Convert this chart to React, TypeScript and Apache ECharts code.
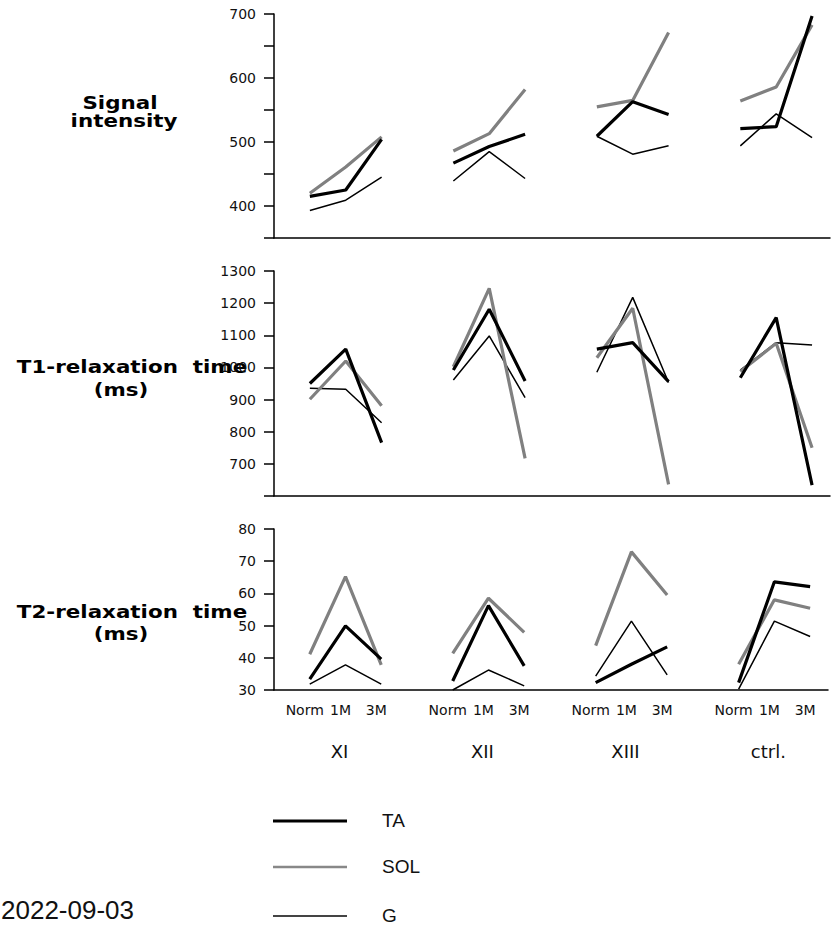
import React, { useEffect, useRef } from "react";
import * as echarts from "echarts";

const groups = ["XI", "XII", "XIII", "ctrl."];
const timepoints = ["Norm", "1M", "3M"];
const measures = ["TA", "SOL", "G"];

// Signal intensity, per group [Norm, 1M, 3M]
const siTA = [[415, 425, 504], [467, 493, 512], [509, 563, 543], [521, 524, 697]];
const siSOL = [[420, 461, 508], [486, 513, 582], [555, 565, 671], [564, 586, 683]];
const siG = [[393, 409, 445], [439, 485, 443], [509, 481, 494], [494, 544, 507]];

// T1-relaxation time (ms)
const t1TA = [[950, 1057, 766], [992, 1181, 958], [1057, 1077, 956], [968, 1155, 634]];
const t1SOL = [[901, 1020, 881], [1002, 1246, 717], [1030, 1184, 636], [987, 1075, 750]];
const t1G = [[935, 932, 828], [961, 1098, 906], [985, 1218, 953], [992, 1077, 1070]];

// T2-relaxation time (ms)
const t2TA = [[33.4, 49.9, 39.6], [32.8, 56.2, 37.5], [32.3, 38, 43.4], [32.3, 63.6, 62.1]];
const t2SOL = [[41.1, 65.2, 37.8], [41.4, 58.5, 47.9], [43.8, 72.9, 59.5], [38, 58, 55.4]];
const t2G = [[31.8, 37.8, 31.8], [30, 36.2, 31.3], [34.3, 51.4, 34.7], [30.3, 51.4, 46.6]];

const siTicks = [400, 500, 600, 700];
const t1Ticks = [700, 800, 900, 1000, 1100, 1200, 1300];
const t2Ticks = [30, 40, 50, 60, 70, 80];

const lineStyles: Record<string, { color: string; width: number }> = {
  TA: { color: "#000000", width: 3.2 },
  SOL: { color: "#808080", width: 3.2 },
  G: { color: "#000000", width: 1.5 },
};

function toData(vals: number[][]) {
  const out: any[] = [];
  vals.forEach((g, gi) => {
    g.forEach((v, i) => out.push([gi * 4 + i, v]));
    out.push([gi * 4 + 3, "-"]);
  });
  return out;
}

export default function App() {
  const ref = useRef<HTMLDivElement>(null);
  useEffect(() => {
    if (!ref.current) return;
    const chart = echarts.init(ref.current, null, { renderer: "svg" });
    const axisFont = { fontFamily: "DejaVu Sans", fontSize: 14, color: "#111" };
    const axisLineStyle = { color: "#000", width: 1.5 };
    const grids = [
      { left: 274, top: 14, width: 556, height: 224 },
      { left: 274, top: 271, width: 556, height: 225 },
      { left: 274, top: 529, width: 556, height: 161 },
    ];
    const baseX = (gi: number) => ({
      type: "value",
      gridIndex: gi,
      min: -1,
      max: 14.5,
      interval: 1,
      splitLine: { show: false },
      axisTick: { show: false },
      axisLine: { show: true, onZero: false, lineStyle: axisLineStyle },
      axisLabel: { show: false },
    });
    const xAxes: any[] = [baseX(0), baseX(1), {
      ...baseX(2),
      axisLabel: {
        show: true,
        ...axisFont,
        fontSize: 14,
        margin: 13,
        padding: [0, 10, 0, 0],
        formatter: (v: number) => {
          if (v < 0) return "";
          const r = Math.round(v) % 4;
          return r < 3 ? timepoints[r] : "";
        },
      },
    }, {
      type: "value",
      gridIndex: 2,
      min: -1,
      max: 14.5,
      interval: 1,
      position: "bottom",
      splitLine: { show: false },
      axisTick: { show: false },
      axisLine: { show: false, onZero: false },
      axisLabel: {
        show: true,
        fontFamily: "DejaVu Sans",
        fontSize: 18,
        color: "#111",
        margin: 52,
        padding: [0, 12, 0, 0],
        formatter: (v: number) => {
          if (v < 0) return "";
          const r = Math.round(v) % 4;
          return r === 1 ? groups[(Math.round(v) - 1) / 4] : "";
        },
      },
    }];
    const baseY = (gi: number, min: number, max: number, interval: number, ticks: number[]) => ({
      type: "value",
      gridIndex: gi,
      min,
      max,
      interval,
      splitLine: { show: false },
      axisLine: { show: true, onZero: false, lineStyle: axisLineStyle },
      axisTick: { show: true, length: 10, lineStyle: axisLineStyle },
      axisLabel: {
        ...axisFont,
        margin: 18,
        formatter: (v: number) => (ticks.includes(v) ? String(v) : ""),
      },
    });
    const yAxes = [
      baseY(0, 350, 700, 50, siTicks),
      baseY(1, 600, 1300, 100, t1Ticks),
      baseY(2, 30, 80, 10, t2Ticks),
    ];
    const panels = [
      { TA: siTA, SOL: siSOL, G: siG },
      { TA: t1TA, SOL: t1SOL, G: t1G },
      { TA: t2TA, SOL: t2SOL, G: t2G },
    ];
    const series: any[] = [];
    panels.forEach((p: any, pi) => {
      ["G", "SOL", "TA"].forEach((m) => {
        series.push({
          type: "line",
          name: m,
          xAxisIndex: pi,
          yAxisIndex: pi,
          data: toData(p[m]),
          showSymbol: false,
          symbol: "none",
          connectNulls: false,
          lineStyle: { color: lineStyles[m].color, width: lineStyles[m].width },
          itemStyle: { color: lineStyles[m].color },
          z: m === "TA" ? 4 : m === "SOL" ? 3 : 2,
        });
      });
    });
    const titleStyle = { fontFamily: "DejaVu Sans", fontSize: 17, fontWeight: "bold", fill: "#000", align: "center", verticalAlign: "middle" };
    const titleText = (text: string, x: number, y: number) => ({
      type: "text",
      x,
      y,
      scaleX: 1.26,
      style: { ...titleStyle, text },
    });
    const legendItems = [
      { name: measures[0], y: 821, color: "#000", width: 3 },
      { name: measures[1], y: 867, color: "#888", width: 2.5 },
      { name: measures[2], y: 916, color: "#444", width: 2 },
    ];
    const graphic: any[] = [
      titleText("Signal", 120, 103),
      titleText("intensity", 124, 121),
      titleText("T1-relaxation  time", 132, 367),
      titleText("(ms)", 121, 390),
      titleText("T2-relaxation  time", 132, 612),
      titleText("(ms)", 121, 634),
      {
        type: "text",
        x: 1,
        y: 910,
        style: { text: "2022-09-03", fontFamily: "Liberation Sans", fontSize: 26, fill: "#111", verticalAlign: "middle" },
      },
    ];
    legendItems.forEach((l) => {
      graphic.push({
        type: "line",
        shape: { x1: 273, y1: l.y, x2: 347, y2: l.y },
        style: { stroke: l.color, lineWidth: l.width },
      });
      graphic.push({
        type: "text",
        x: 382,
        y: l.y - 1,
        style: { text: l.name, fontFamily: "Liberation Sans", fontSize: 19, fill: "#111", verticalAlign: "middle" },
      });
    });
    chart.setOption({
      animation: false,
      backgroundColor: "#fff",
      grid: grids,
      xAxis: xAxes,
      yAxis: yAxes,
      series,
      graphic,
    });
    return () => chart.dispose();
  }, []);
  return (
    <div
      ref={ref}
      style={{ position: "fixed", left: 0, top: 0, width: 831, height: 926 }}
    />
  );
}
